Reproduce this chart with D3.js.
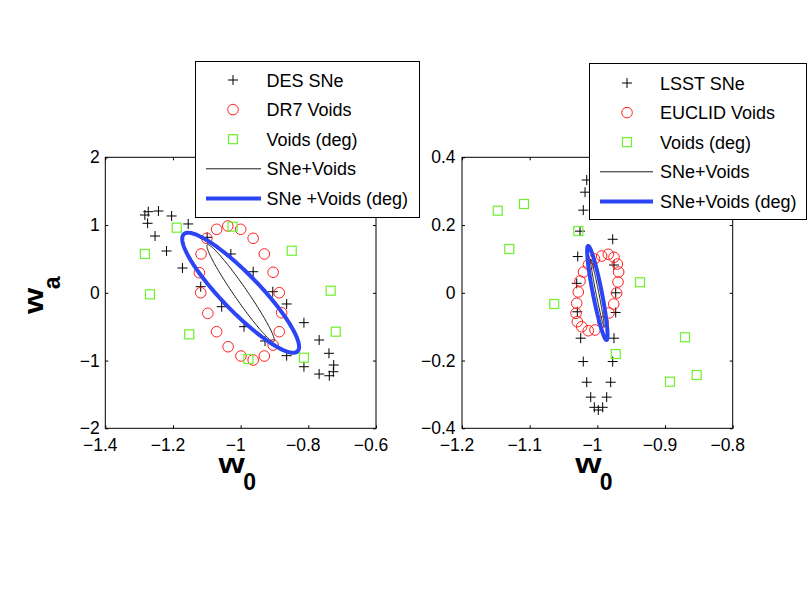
<!DOCTYPE html>
<html>
<head>
<meta charset="utf-8">
<script src="https://cdn.jsdelivr.net/npm/d3@7"></script>
<style>
  html, body { margin: 0; padding: 0; background: #fff; }
  svg { display: block; }
  text { font-family: "Liberation Sans", Arial, Helvetica, sans-serif; fill: #000; }
</style>
</head>
<body>
<script>
// ---------------- DATA ----------------
// Left panel (DES SNe + DR7 voids)
const leftXTicks = [-1.4, -1.2, -1, -0.8, -0.6];
const leftYTicks = [-2, -1, 0, 1, 2];
const desSNeW0 = [-1.283, -1.273, -1.243, -1.204, -1.275, -1.253, -1.219, -1.155, -1.172, -1.099, -1.118, -1.029, -0.963, -0.905, -1.056, -0.864, -0.990, -0.813, -0.928, -0.864, -0.768, -0.813, -0.739, -0.725, -0.768, -0.738, -0.726];
const desSNeWa = [1.148, 1.197, 1.207, 1.134, 1.026, 0.838, 0.617, 1.016, 0.366, 0.819, 0.090, 0.573, 0.311, 0.016, -0.205, -0.165, -0.500, -0.441, -0.711, -0.928, -0.697, -1.091, -0.893, -1.066, -1.199, -1.224, -1.165];
const dr7VoidsW0 = [-1.071, -1.038, -1.000, -0.963, -0.930, -0.904, -0.886, -0.879, -0.886, -0.904, -0.930, -0.963, -0.999, -1.037, -1.071, -1.097, -1.118, -1.122, -1.117, -1.100];
const dr7VoidsWa = [0.937, 0.986, 0.937, 0.804, 0.573, 0.303, 0.001, -0.294, -0.574, -0.771, -0.933, -0.992, -0.933, -0.796, -0.574, -0.303, 0.001, 0.297, 0.573, 0.804];
const degVoidsLeftW0 = [-1.189, -1.024, -1.283, -0.849, -1.268, -0.734, -0.719, -1.152, -0.977, -0.813];
const degVoidsLeftWa = [0.961, 0.976, 0.573, 0.621, -0.022, 0.031, -0.574, -0.613, -0.977, -0.958];
// ellipse: [centre w0, centre wa, major dw0, major dwa, minor dw0, minor dwa]
const leftEllipseSNeVoids = [-1.0, -0.005, 0.0985, -0.713, 0.0158, 0.0545];
const leftEllipseDeg = [-1.0, 0.0, 0.168, -0.865, 0.040, 0.192];

// Right panel (LSST SNe + EUCLID voids)
const rightXTicks = [-1.2, -1.1, -1, -0.9, -0.8];
const rightYTicks = [-0.4, -0.2, 0, 0.2, 0.4];
const lsstSNeW0 = [-1.0157, -1.0182, -1.0208, -1.0256, -0.9773, -1.0290, -0.9754, -1.0305, -0.9729, -1.0296, -0.9729, -1.0246, -0.9754, -1.0208, -0.9773, -1.0157, -0.9803, -1.0098, -0.9862, -1.0045, -0.9921, -0.9986];
const lsstSNeWa = [0.333, 0.297, 0.244, 0.182, 0.158, 0.107, 0.082, 0.028, 0.000, -0.056, -0.058, -0.134, -0.134, -0.203, -0.203, -0.264, -0.264, -0.308, -0.308, -0.338, -0.338, -0.346];
const euclidVoidsW0 = [-0.9936, -0.9838, -0.9754, -0.9705, -0.9685, -0.9695, -0.9714, -0.9758, -0.9828, -0.9917, -1.0035, -1.0134, -1.0231, -1.0296, -1.0315, -1.0305, -1.0282, -1.0256, -1.0205, -1.0131, -1.0042];
const euclidVoidsWa = [0.1086, 0.1137, 0.1048, 0.0850, 0.0614, 0.0319, -0.0006, -0.0331, -0.0596, -0.0862, -0.1098, -0.1119, -0.1001, -0.0853, -0.0605, -0.0310, 0.0024, 0.0348, 0.0614, 0.0835, 0.0998];
const degVoidsRightW0 = [-1.1472, -1.1084, -1.1301, -1.0636, -1.0281, -0.9370, -0.9729, -0.8705, -0.8532, -0.8927];
const degVoidsRightWa = [0.2424, 0.2621, 0.1293, -0.0331, 0.1824, 0.0310, -0.1807, -0.1314, -0.2427, -0.2624];
const rightEllipseSNeVoids = [-1.0, 0.0, 0.010, -0.100, 0.002, 0.001];
const rightEllipseDeg = [-1.0, -0.0006, 0.0136, -0.1387, 0.0065, 0.00255];

const leftLegendLabels = ["DES SNe", "DR7 Voids", "Voids (deg)", "SNe+Voids", "SNe +Voids (deg)"];
const rightLegendLabels = ["LSST SNe", "EUCLID Voids", "Voids (deg)", "SNe+Voids", "SNe+Voids (deg)"];

// ---------------- STYLE ----------------
const RED = "#ff2020", GREEN = "#6ef02c", BLUE = "#2b45f5";
const W = 810, H = 609;
const MONO = "'Liberation Mono', 'Courier New', 'Nimbus Mono PS', monospace";
const SANS = "'Liberation Sans', Arial, Helvetica, sans-serif";

const svg = d3.select("body").append("svg")
  .attr("width", W).attr("height", H)
  .attr("viewBox", `0 0 ${W} ${H}`);
svg.append("rect").attr("width", W).attr("height", H).attr("fill", "#fff");

const fmt = d => (d < 0 ? "\u2212" : "") + String(+Math.abs(d).toFixed(2));

function panel(cfg) {
  const x = d3.scaleLinear().domain(cfg.xDomain).range([cfg.left, cfg.right]);
  const y = d3.scaleLinear().domain(cfg.yDomain).range([cfg.bottom, cfg.top]);
  const g = svg.append("g");

  // axes
  const ax = g.append("g").attr("transform", `translate(0,${cfg.bottom})`)
    .call(d3.axisBottom(x).tickValues(cfg.xTicks).tickFormat(fmt).tickSizeInner(-3).tickSizeOuter(0).tickPadding(10));
  const ay = g.append("g").attr("transform", `translate(${cfg.left},0)`)
    .call(d3.axisLeft(y).tickValues(cfg.yTicks).tickFormat(fmt).tickSizeInner(-3).tickSizeOuter(0).tickPadding(cfg.yPad));
  const axT = g.append("g").attr("transform", `translate(0,${cfg.top})`)
    .call(d3.axisTop(x).tickValues(cfg.xTicks).tickFormat("").tickSizeInner(-3).tickSizeOuter(0));
  const ayR = g.append("g").attr("transform", `translate(${cfg.right},0)`)
    .call(d3.axisRight(y).tickValues(cfg.yTicks).tickFormat("").tickSizeInner(-3).tickSizeOuter(0));
  [ax, ay, axT, ayR].forEach(a => {
    a.select(".domain").remove();
    a.selectAll("line").attr("stroke", "#000").attr("stroke-width", 1);
    a.selectAll("text").attr("font-size", 17.5).attr("font-family", SANS).attr("fill", "#000");
  });
  ax.selectAll("text").attr("dx", -5.5);
  g.append("rect")
    .attr("x", cfg.left).attr("y", cfg.top)
    .attr("width", cfg.right - cfg.left).attr("height", cfg.bottom - cfg.top)
    .attr("fill", "none").attr("stroke", "#000").attr("stroke-width", 1);

  // crosses
  g.append("g").selectAll("path").data(d3.range(cfg.snX.length)).join("path")
    .attr("transform", i => `translate(${x(cfg.snX[i])},${y(cfg.snY[i])})`)
    .attr("d", "M-5,0H5M0,-5V5").attr("stroke", "#000").attr("stroke-width", 1).attr("fill", "none");
  // circles
  g.append("g").selectAll("circle").data(d3.range(cfg.vX.length)).join("circle")
    .attr("cx", i => x(cfg.vX[i])).attr("cy", i => y(cfg.vY[i])).attr("r", 5.3)
    .attr("fill", "none").attr("stroke", RED).attr("stroke-width", 1);
  // squares
  g.append("g").selectAll("rect").data(d3.range(cfg.dX.length)).join("rect")
    .attr("x", i => x(cfg.dX[i]) - 4.5).attr("y", i => y(cfg.dY[i]) - 4.5)
    .attr("width", 9).attr("height", 9)
    .attr("fill", "none").attr("stroke", GREEN).attr("stroke-width", 1.2);

  // ellipses
  const ts = d3.range(0, 2 * Math.PI, Math.PI / 90);
  const ell = e => ts.map(t => [e[0] + e[2] * Math.cos(t) + e[4] * Math.sin(t), e[1] + e[3] * Math.cos(t) + e[5] * Math.sin(t)]);
  const line = d3.line().x(d => x(d[0])).y(d => y(d[1])).curve(d3.curveLinearClosed);
  g.append("path").attr("d", line(ell(cfg.e1))).attr("fill", "none").attr("stroke", "#000").attr("stroke-width", 0.9);
  g.append("path").attr("d", line(ell(cfg.e2))).attr("fill", "none").attr("stroke", BLUE).attr("stroke-width", 4);

  // axis labels
  const cx = (cfg.left + cfg.right) / 2;
  g.append("text").attr("transform", `translate(${cx - 9},${cfg.bottom + 45}) scale(1.25,1)`)
    .attr("text-anchor", "middle").attr("font-family", MONO).attr("font-weight", "bold").attr("font-size", 27).text("w");
  g.append("text").attr("x", cx + 2.5).attr("y", cfg.bottom + 62)
    .attr("font-family", SANS).attr("font-weight", "bold").attr("font-size", 23).text("0");

  if (cfg.yLabel) {
    const cy = (cfg.top + cfg.bottom) / 2;
    g.append("text").attr("transform", `translate(43,${cy + 8}) rotate(-90) scale(1.25,1)`)
      .attr("text-anchor", "middle").attr("font-family", MONO).attr("font-weight", "bold").attr("font-size", 27).text("w");
    g.append("text").attr("transform", `translate(60,${cy - 3.5}) rotate(-90)`)
      .attr("font-family", SANS).attr("font-weight", "bold").attr("font-size", 23).text("a");
  }
}

function legend(cfg) {
  const g = svg.append("g");
  g.append("rect").attr("x", cfg.x0).attr("y", cfg.y0).attr("width", cfg.x1 - cfg.x0).attr("height", cfg.y1 - cfg.y0)
    .attr("fill", "#fff").attr("stroke", "#000").attr("stroke-width", 1);
  cfg.labels.forEach((lab, i) => {
    const yy = cfg.rowY + i * cfg.step;
    if (i === 0) g.append("path").attr("transform", `translate(${cfg.sx},${yy})`).attr("d", "M-5,0H5M0,-5V5").attr("stroke", "#000").attr("fill", "none");
    if (i === 1) g.append("circle").attr("cx", cfg.sx).attr("cy", yy).attr("r", 5.3).attr("fill", "none").attr("stroke", RED);
    if (i === 2) g.append("rect").attr("x", cfg.sx - 4.5).attr("y", yy - 4.5).attr("width", 9).attr("height", 9).attr("fill", "none").attr("stroke", GREEN).attr("stroke-width", 1.2);
    if (i === 3) g.append("line").attr("x1", cfg.lx0).attr("x2", cfg.lx1).attr("y1", yy).attr("y2", yy).attr("stroke", "#000").attr("stroke-width", 0.9);
    if (i === 4) g.append("line").attr("x1", cfg.lx0).attr("x2", cfg.lx1).attr("y1", yy).attr("y2", yy).attr("stroke", BLUE).attr("stroke-width", 4);
    g.append("text").attr("x", cfg.tx).attr("y", yy + 6.5).attr("font-size", 18).attr("font-family", SANS).text(lab);
  });
}

panel({
  left: 105.3, right: 376, top: 157.3, bottom: 428.3,
  xDomain: [-1.4, -0.6], yDomain: [-2, 2], xTicks: leftXTicks, yTicks: leftYTicks, yPad: 5.5,
  snX: desSNeW0, snY: desSNeWa, vX: dr7VoidsW0, vY: dr7VoidsWa, dX: degVoidsLeftW0, dY: degVoidsLeftWa,
  e1: leftEllipseSNeVoids, e2: leftEllipseDeg, yLabel: true
});
panel({
  left: 462, right: 732.7, top: 157.3, bottom: 428.3,
  xDomain: [-1.2, -0.8], yDomain: [-0.4, 0.4], xTicks: rightXTicks, yTicks: rightYTicks, yPad: 6.5,
  snX: lsstSNeW0, snY: lsstSNeWa, vX: euclidVoidsW0, vY: euclidVoidsWa, dX: degVoidsRightW0, dY: degVoidsRightWa,
  e1: rightEllipseSNeVoids, e2: rightEllipseDeg, yLabel: false
});

legend({ x0: 195.5, y0: 61.5, x1: 419.5, y1: 217.5, rowY: 80, step: 29.6, sx: 233, lx0: 206, lx1: 261, tx: 266.5, labels: leftLegendLabels });
legend({ x0: 589.5, y0: 63.5, x1: 806.5, y1: 219.5, rowY: 83, step: 29.6, sx: 627, lx0: 600, lx1: 653, tx: 660, labels: rightLegendLabels });
</script>
</body>
</html>
